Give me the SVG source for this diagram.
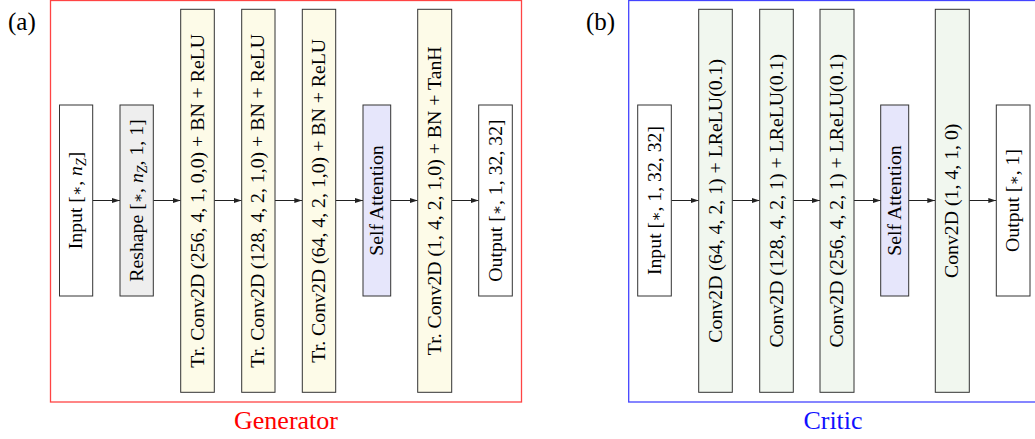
<svg xmlns="http://www.w3.org/2000/svg" width="1035" height="439" viewBox="0 0 1035 439">
<style>
.bx{stroke:#333;stroke-width:1}
.yl{fill:#fdfbe8}
.gn{fill:#f1f7ef}
.sa{fill:#e6e6fb}
.gy{fill:#eeeeee}
.wh{fill:#ffffff}
.t{font-family:"Liberation Serif","Times New Roman",serif;font-size:19.8px;fill:#000;text-anchor:middle}
.i{font-style:italic}
.st{font-family:"DejaVu Serif",serif;font-size:15px}
.lab{font-family:"Liberation Serif","Times New Roman",serif;font-size:25px;fill:#000}
.cap{font-family:"Liberation Serif","Times New Roman",serif;font-size:26px;text-anchor:middle}
.ar{stroke:#222;stroke-width:1;fill:none;marker-end:url(#ah)}
</style>
<defs>
<marker id="ah" viewBox="0 0 8 6" refX="8" refY="3" markerWidth="8" markerHeight="6" markerUnits="userSpaceOnUse" orient="auto">
<path d="M0,0.5 L8,3 L0,5.5 Z" fill="#222"/>
</marker>
</defs>
<rect width="1035" height="439" fill="#fff"/>

<g id="frame-generator">
<rect x="50.5" y="0.5" width="471" height="401.5" fill="none" stroke="#f44" stroke-width="1.3"/>
<text class="lab" x="8" y="30">(a)</text>
<text class="cap" x="286" y="429" fill="#f00">Generator</text>
</g>
<g id="frame-critic">
<rect x="628.7" y="0.5" width="420" height="401.5" fill="none" stroke="#44f" stroke-width="1.3"/>
<text class="lab" x="586" y="30">(b)</text>
<text class="cap" x="833" y="429" fill="#11f">Critic</text>
</g>

<g id="connectors">
<line class="ar" x1="92.7" y1="200.5" x2="120" y2="200.5"/>
<line class="ar" x1="153.3" y1="200.5" x2="180.7" y2="200.5"/>
<line class="ar" x1="214.3" y1="200.5" x2="241.7" y2="200.5"/>
<line class="ar" x1="275" y1="200.5" x2="302.3" y2="200.5"/>
<line class="ar" x1="335.7" y1="200.5" x2="363" y2="200.5"/>
<line class="ar" x1="390.7" y1="200.5" x2="417.7" y2="200.5"/>
<line class="ar" x1="451.7" y1="200.5" x2="478.7" y2="200.5"/>
<line class="ar" x1="671.3" y1="200.5" x2="698.7" y2="200.5"/>
<line class="ar" x1="732.3" y1="200.5" x2="759.7" y2="200.5"/>
<line class="ar" x1="793.3" y1="200.5" x2="820" y2="200.5"/>
<line class="ar" x1="854" y1="200.5" x2="880.7" y2="200.5"/>
<line class="ar" x1="908.7" y1="200.5" x2="935.3" y2="200.5"/>
<line class="ar" x1="969.3" y1="200.5" x2="996.3" y2="200.5"/>
</g>

<g id="g-input">
<rect class="bx wh" x="59.5" y="105" width="33.2" height="191"/>
<text class="t" transform="translate(82,200.5) rotate(-90)">Input [<tspan class="st">∗</tspan>, <tspan class="i">n</tspan><tspan class="i" font-size="14" dy="4">Z</tspan><tspan dy="-4">]</tspan></text>
</g>
<g id="g-reshape">
<rect class="bx gy" x="120" y="105" width="33.3" height="191"/>
<text class="t" transform="translate(142.7,200.5) rotate(-90)">Reshape [<tspan class="st">∗</tspan>, <tspan class="i">n</tspan><tspan class="i" font-size="14" dy="4">Z</tspan><tspan dy="-4">, 1, 1]</tspan></text>
</g>
<g id="g-trconv1">
<rect class="bx yl" x="180.7" y="9.3" width="33.6" height="383"/>
<text class="t" transform="translate(203.5,200.8) rotate(-90)">Tr. Conv2D (256, 4, 1, 0,0) + BN + ReLU</text>
</g>
<g id="g-trconv2">
<rect class="bx yl" x="241.7" y="9.3" width="33.3" height="383"/>
<text class="t" transform="translate(264.3,200.8) rotate(-90)">Tr. Conv2D (128, 4, 2, 1,0) + BN + ReLU</text>
</g>
<g id="g-trconv3">
<rect class="bx yl" x="302.3" y="9.3" width="33.4" height="383"/>
<text class="t" transform="translate(325,200.8) rotate(-90)">Tr. Conv2D (64, 4, 2, 1,0) + BN + ReLU</text>
</g>
<g id="g-selfatt">
<rect class="bx sa" x="363" y="105" width="27.7" height="191"/>
<text class="t" transform="translate(383,200.5) rotate(-90)">Self Attention</text>
</g>
<g id="g-trconv4">
<rect class="bx yl" x="417.7" y="9.3" width="34" height="383"/>
<text class="t" transform="translate(440.7,200.8) rotate(-90)">Tr. Conv2D (1, 4, 2, 1,0) + BN + TanH</text>
</g>
<g id="g-output">
<rect class="bx wh" x="478.7" y="105" width="33.6" height="191"/>
<text class="t" transform="translate(501.5,200.5) rotate(-90)">Output [<tspan class="st">∗</tspan>, 1, 32, 32]</text>
</g>

<g id="c-input">
<rect class="bx wh" x="637.7" y="105" width="33.6" height="191"/>
<text class="t" transform="translate(660.5,200.5) rotate(-90)">Input [<tspan class="st">∗</tspan>, 1, 32, 32]</text>
</g>
<g id="c-conv1">
<rect class="bx gn" x="698.7" y="9.3" width="33.6" height="383"/>
<text class="t" transform="translate(721.5,200.8) rotate(-90)">Conv2D (64, 4, 2, 1) + LReLU(0.1)</text>
</g>
<g id="c-conv2">
<rect class="bx gn" x="759.7" y="9.3" width="33.6" height="383"/>
<text class="t" transform="translate(782.5,200.8) rotate(-90)">Conv2D (128, 4, 2, 1) + LReLU(0.1)</text>
</g>
<g id="c-conv3">
<rect class="bx gn" x="820" y="9.3" width="34" height="383"/>
<text class="t" transform="translate(843,200.8) rotate(-90)">Conv2D (256, 4, 2, 1) + LReLU(0.1)</text>
</g>
<g id="c-selfatt">
<rect class="bx sa" x="880.7" y="105" width="28" height="191"/>
<text class="t" transform="translate(900.7,200.5) rotate(-90)">Self Attention</text>
</g>
<g id="c-conv4">
<rect class="bx gn" x="935.3" y="9.3" width="34" height="383"/>
<text class="t" transform="translate(958.3,200.8) rotate(-90)">Conv2D (1, 4, 1, 0)</text>
</g>
<g id="c-output">
<rect class="bx wh" x="996.3" y="105" width="33.7" height="191"/>
<text class="t" transform="translate(1019,200.5) rotate(-90)">Output [<tspan class="st">∗</tspan>, 1]</text>
</g>
</svg>
